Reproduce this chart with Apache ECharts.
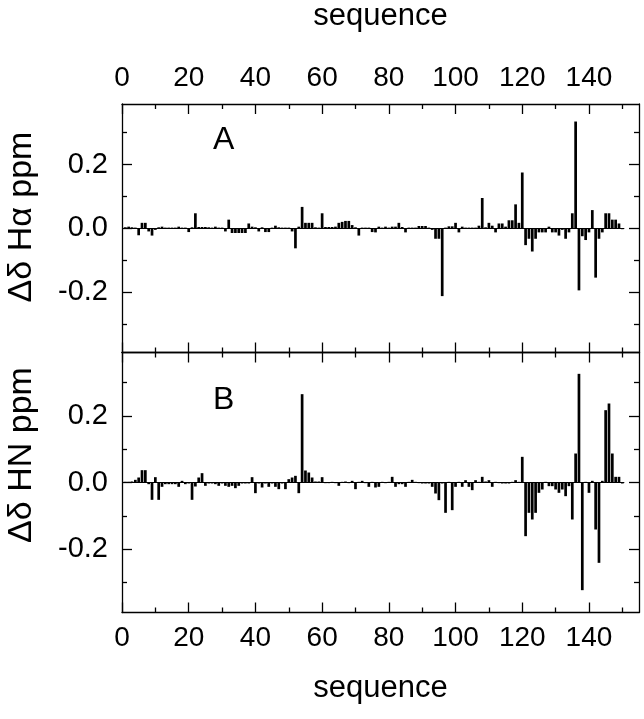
<!DOCTYPE html>
<html>
<head>
<meta charset="utf-8">
<script src="https://cdn.jsdelivr.net/npm/echarts@6/dist/echarts.min.js"></script>
<style>
  html, body { margin: 0; padding: 0; background: #fff; }
  #chart { width: 644px; height: 719px; }
</style>
</head>
<body>
<div id="chart"></div>
<script>
// chemical shift differences, residues 1..150
var dHa = [
  0.003, 0.005, 0.003, 0.002, -0.022, 0.017, 0.017, -0.010, -0.023, -0.005,
  0.003, 0.005, 0.002, 0.002, 0.002, 0.002, 0.005, 0.002, 0.002, -0.012,
  0.003, 0.047, 0.004, 0.004, 0.004, 0.003, 0.002, 0.005, 0.002, 0.002,
  -0.010, 0.027, -0.015, -0.015, -0.015, -0.015, -0.015, 0.015, 0.005, 0.003,
  -0.010, 0.003, -0.012, -0.012, 0.002, 0.008, 0.003, 0.002, 0.002, 0.002,
  -0.010, -0.063, 0.005, 0.067, 0.017, 0.017, 0.017, 0.003, 0.002, 0.047,
  0.004, 0.004, 0.004, 0.005, 0.017, 0.020, 0.023, 0.023, 0.010, 0.003,
  -0.023, 0.002, 0.002, 0.002, -0.012, -0.013, 0.005, 0.002, 0.005, 0.002,
  0.005, 0.005, 0.017, 0.004, -0.013, 0.002, 0.002, 0.002, 0.007, 0.007,
  0.007, 0.002, -0.005, -0.033, -0.033, -0.213, 0.002, 0.006, 0.006, 0.017,
  -0.013, 0.005, 0.002, 0.002, 0.002, 0.002, 0.008, 0.095, 0.003, 0.017,
  0.008, -0.013, 0.015, 0.015, 0.005, 0.025, 0.025, 0.075, 0.017, 0.175,
  -0.053, -0.033, -0.073, -0.033, -0.013, -0.013, -0.013, 0.005, -0.013, -0.013,
  -0.023, -0.005, -0.033, -0.013, 0.047, 0.335, -0.195, -0.025, -0.037, -0.013,
  0.057, -0.155, -0.033, -0.013, 0.047, 0.047, 0.027, 0.027, 0.015, -0.003
];
var dHN = [
  0.002, 0.002, 0.003, 0.008, 0.015, 0.037, 0.037, -0.005, -0.052, 0.016,
  -0.052, -0.013, -0.005, -0.005, -0.005, -0.005, -0.013, 0.005, -0.005, -0.003,
  -0.052, -0.012, 0.015, 0.028, -0.010, -0.003, -0.003, -0.005, -0.010, -0.003,
  -0.010, -0.013, -0.010, -0.017, -0.010, -0.003, -0.003, -0.003, 0.016, -0.032,
  -0.003, -0.015, -0.003, -0.013, -0.003, -0.013, -0.020, -0.003, -0.020, 0.010,
  0.015, 0.020, -0.032, 0.265, 0.036, 0.030, 0.015, 0.003, 0.003, 0.016,
  -0.002, -0.002, 0.002, -0.002, -0.010, 0.002, 0.003, -0.002, 0.005, -0.020,
  0.002, 0.005, -0.002, -0.013, 0.002, -0.015, -0.013, 0.002, -0.002, 0.002,
  0.017, -0.013, -0.005, -0.005, -0.013, 0.002, 0.008, 0.002, -0.002, -0.003,
  -0.003, -0.003, -0.013, -0.033, -0.053, -0.003, -0.091, 0.002, -0.083, -0.013,
  0.002, -0.013, 0.007, -0.013, -0.023, 0.007, 0.002, 0.017, 0.003, 0.007,
  -0.013, 0.002, -0.002, -0.003, -0.003, -0.003, 0.002, 0.007, 0.002, 0.077,
  -0.161, -0.091, -0.111, -0.091, -0.031, -0.021, 0.002, -0.011, -0.011, -0.021,
  -0.031, -0.021, -0.041, -0.011, -0.111, 0.087, 0.326, -0.323, 0.002, -0.031,
  0.005, -0.141, -0.241, 0.005, 0.217, 0.237, 0.087, 0.017, 0.017, -0.003
];
var xMajor = [0, 20, 40, 60, 80, 100, 120, 140];
var xMinor = [10, 30, 50, 70, 90, 110, 130, 150];
var yMajor = [-0.2, 0, 0.2];
var yMinor = [-0.3, -0.1, 0.1, 0.3];
var panelNames = ['\u0394\u03b4 H\u03b1 ppm', '\u0394\u03b4 HN ppm'];
var panelLetters = ['A', 'B'];

var FONT = '"Liberation Sans", Arial, sans-serif';
var chart = echarts.init(document.getElementById('chart'));

var grids = [
  { left: 122, right: 5, top: 93, height: 259.5 },
  { left: 122, right: 5, top: 352.5, height: 260 }
];

var xAxes = [];
var yAxes = [];

function xAx(g, pos, major, showLabel, showName) {
  return {
    gridIndex: g, type: 'value', min: 0, max: 155, position: pos,
    axisLine: { show: major, onZero: false, lineStyle: { color: '#000', width: 1.3 } },
    axisTick: { show: true, inside: true, length: major ? 10 : 5,
      customValues: major ? xMajor : xMinor, lineStyle: { color: '#000', width: 1.3 } },
    axisLabel: { show: showLabel, customValues: xMajor, margin: 12,
      color: '#000', fontSize: 28, fontFamily: FONT },
    splitLine: { show: false },
    name: showName ? 'sequence' : '', nameLocation: 'middle',
    nameGap: pos === 'top' ? 72 : 60,
    nameTextStyle: { color: '#000', fontSize: 31, fontFamily: FONT }
  };
}

function yAx(g, pos, major) {
  var left = pos === 'left';
  return {
    gridIndex: g, type: 'value', min: -0.39, max: 0.39, position: pos,
    axisLine: { show: major, onZero: false, lineStyle: { color: '#000', width: 1.3 } },
    axisTick: { show: true, inside: true, length: major ? 10 : 5,
      customValues: major ? yMajor : yMinor, lineStyle: { color: '#000', width: 1.3 } },
    axisLabel: { show: left && major, customValues: yMajor, margin: 14,
      color: '#000', fontSize: 29, fontFamily: FONT,
      formatter: function (v) { return Math.abs(v) < 1e-9 ? '0.0' : v.toFixed(1); } },
    splitLine: { show: false }
  };
}

var series = [];
[dHa, dHN].forEach(function (vals, g) {
  var xi = xAxes.length, yi = yAxes.length;
  xAxes.push(xAx(g, 'bottom', true, g === 1, g === 1));
  xAxes.push(xAx(g, 'bottom', false, false, false));
  xAxes.push(xAx(g, 'top', true, g === 0, g === 0));
  xAxes.push(xAx(g, 'top', false, false, false));
  yAxes.push(yAx(g, 'left', true));
  yAxes.push(yAx(g, 'left', false));
  yAxes.push(yAx(g, 'right', true));
  yAxes.push(yAx(g, 'right', false));
  series.push({
    type: 'bar', xAxisIndex: xi, yAxisIndex: yi,
    data: vals.map(function (v, i) { return [i + 1, v]; }),
    barWidth: 2.7,
    itemStyle: { color: '#000' },
    animation: false,
    markLine: {
      silent: true, symbol: 'none', animation: false,
      label: { show: false },
      lineStyle: { color: '#000', width: 1, type: 'solid' },
      data: [[{ coord: [0, 0] }, { coord: [150.6, 0] }]]
    }
  });
});

// panel letters and rotated y titles
var graphics = [];
panelLetters.forEach(function (t, g) {
  graphics.push({
    type: 'text', left: 213, top: g === 0 ? 124 : 384,
    style: { text: t, fontSize: 32, fontFamily: FONT, fill: '#000' }
  });
});
panelNames.forEach(function (t, g) {
  graphics.push({
    type: 'text', x: 22, y: g === 0 ? 217 : 455, rotation: Math.PI / 2,
    style: { text: t, fontSize: 34, fontFamily: FONT, fill: '#000',
      align: 'center', verticalAlign: 'middle' }
  });
});

var option = {
  animation: false,
  grid: grids,
  xAxis: xAxes,
  yAxis: yAxes,
  series: series,
  graphic: graphics
};

chart.setOption(option);
window.addEventListener('resize', function () { chart.resize(); });
</script>
</body>
</html>
